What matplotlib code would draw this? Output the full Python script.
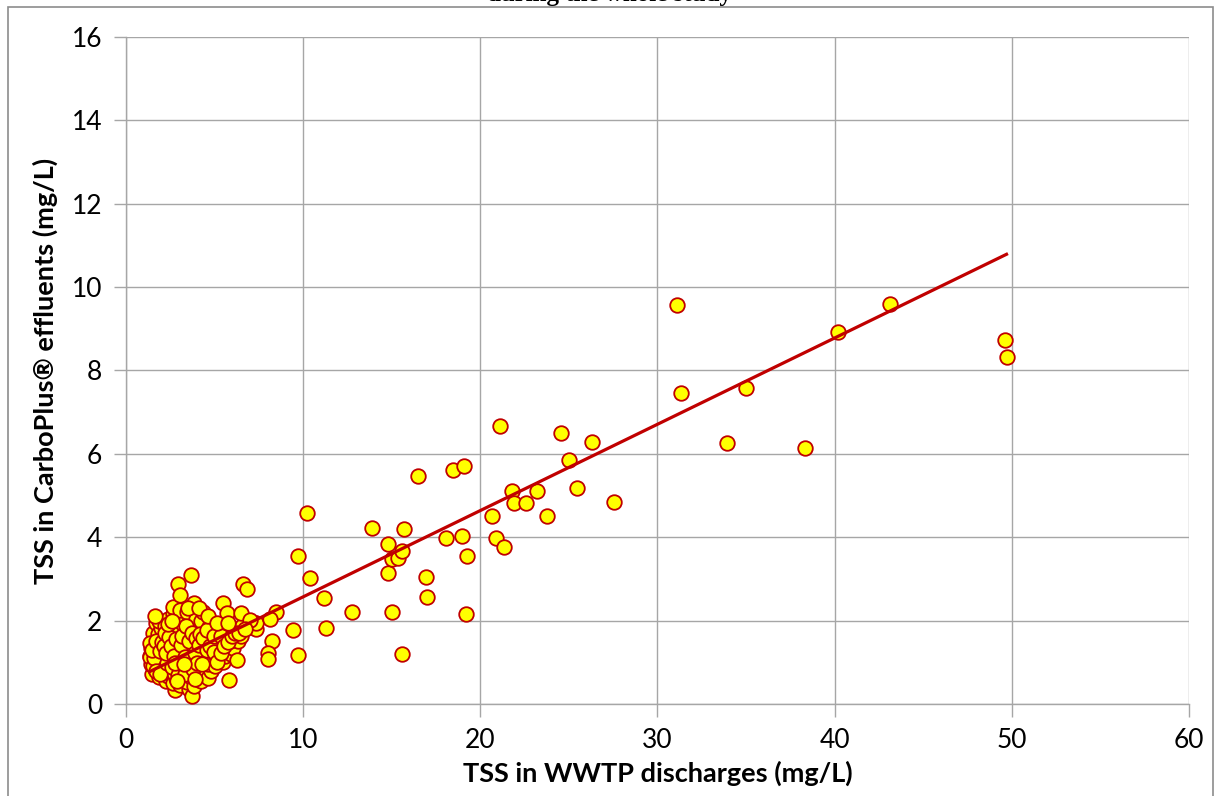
import matplotlib
matplotlib.use("Agg")
import matplotlib.pyplot as plt
from matplotlib.patches import Rectangle

# -------------------------------
# Data
# -------------------------------
# dense cluster near the origin (WWTP, CarboPlus)
cluster_x = [1.45, 1.62, 1.40, 1.55, 1.38, 1.66, 1.42, 1.58, 1.50, 1.70, 1.35, 1.35,
             1.85, 2.05, 1.78, 1.95, 2.10, 1.82, 2.00, 1.90, 2.08, 1.80, 1.98, 1.88, 2.12, 1.75,
             2.25, 2.40, 2.20, 2.48, 2.30, 2.45, 2.22, 2.38, 2.50, 2.28, 2.42, 2.20, 2.35, 2.55, 2.52,
             2.77, 2.65, 2.85, 2.70, 2.90, 2.62, 2.80, 2.68, 2.88, 2.75, 2.60, 2.82, 2.70, 2.92, 2.65,
             2.67, 2.95, 2.78,
             3.05, 3.20, 3.00, 3.28, 3.10, 3.25, 3.02, 3.18, 3.30, 3.08, 3.22, 3.00, 3.15, 3.28, 3.05,
             3.05, 3.12, 3.32,
             3.55, 3.42, 3.65, 3.48, 3.70, 3.40, 3.60, 3.45, 3.68, 3.52, 3.40, 3.62, 3.50, 3.70, 3.45,
             3.67, 3.58,
             3.70, 3.85, 4.00, 3.82, 4.05, 3.90, 4.10, 3.80, 3.98, 4.12, 3.88, 4.05, 3.82, 3.95, 3.86,
             4.08,
             4.25, 4.40, 4.22, 4.48, 4.30, 4.45, 4.20, 4.38, 4.50, 4.28, 4.42, 4.22, 4.35, 4.52,
             4.65, 4.80, 4.62, 4.88, 4.70, 4.85, 4.60, 4.78, 4.90, 4.68, 4.75,
             5.05, 5.20, 5.00, 5.28, 5.10, 5.25, 5.05, 5.18, 5.30,
             5.45, 5.60, 5.42, 5.68, 5.50, 5.65, 5.48, 5.49,
             5.80, 5.95, 6.05, 5.85, 6.10, 5.90, 5.72,
             6.24, 6.35, 6.50, 6.30, 6.55, 6.49, 6.62, 6.81,
             7.00, 7.28, 7.34, 7.35, 7.00,
             # second pass, filling the blob
             1.52, 1.60, 1.48, 1.72, 1.68, 1.90, 2.02, 1.94, 2.15, 2.18, 2.32, 2.26, 2.44,
             2.36, 2.58, 2.56, 2.72, 2.84, 2.96, 2.74, 3.12, 3.16, 3.36, 3.34, 3.38, 3.52,
             3.56, 3.76, 3.74, 3.92, 3.94, 4.02, 4.15, 4.18, 4.32, 4.36, 4.55, 4.58, 4.72,
             4.95, 4.98, 5.12, 5.35, 5.38, 5.55, 5.75, 6.00, 6.15, 6.40, 6.70, 1.62, 2.60,
             3.48, 4.10, 4.62, 5.15, 5.78, 2.90, 3.26, 3.90]
cluster_y = [0.72, 0.85, 0.95, 1.05, 1.15, 1.25, 1.35, 1.45, 1.70, 1.95, 1.46, 1.13,
             0.65, 0.78, 0.90, 1.00, 1.12, 1.22, 1.32, 1.42, 1.55, 1.68, 1.82, 1.98, 0.95, 1.05,
             0.55, 0.68, 0.80, 0.92, 1.05, 1.15, 1.28, 1.40, 1.50, 1.62, 1.75, 1.88, 2.05, 1.20, 0.75,
             0.34, 0.50, 0.62, 0.75, 0.88, 1.00, 1.10, 1.22, 1.35, 1.48, 1.60, 1.72, 1.85, 2.00, 2.15,
             2.33, 2.87, 1.28,
             0.45, 0.60, 0.72, 0.85, 0.98, 1.10, 1.20, 1.32, 1.45, 1.58, 1.70, 1.82, 1.95, 2.10, 2.25,
             2.61, 0.80, 1.25,
             0.35, 0.52, 0.65, 0.80, 0.92, 1.05, 1.18, 1.30, 1.42, 1.55, 1.68, 1.80, 1.92, 2.05, 2.20,
             3.09, 1.00,
             0.18, 0.42, 0.60, 0.75, 0.90, 1.02, 1.15, 1.28, 1.40, 1.52, 1.65, 1.78, 1.90, 2.05, 2.42,
             1.22,
             0.55, 0.70, 0.85, 1.00, 1.12, 1.25, 1.38, 1.50, 1.62, 1.75, 1.88, 2.00, 2.20, 1.10,
             0.62, 0.80, 0.95, 1.10, 1.22, 1.35, 1.48, 1.60, 1.72, 1.85, 1.02,
             0.90, 1.05, 1.20, 1.32, 1.45, 1.58, 1.70, 1.85, 1.15,
             1.00, 1.15, 1.30, 1.42, 1.55, 1.68, 1.80, 2.42,
             0.58, 1.20, 1.35, 1.50, 1.62, 1.75, 2.18,
             1.05, 1.50, 1.62, 1.75, 1.88, 2.18, 2.87, 2.75,
             1.85, 1.94, 1.81, 1.94, 2.02,
             0.90, 1.10, 1.30, 1.52, 0.80, 1.28, 1.48, 0.72, 1.38, 1.70, 0.98, 1.22, 1.60,
             1.92, 0.88, 1.40, 1.15, 1.55, 0.70, 0.98, 1.42, 1.62, 0.72, 1.12, 1.88, 1.02,
             1.50, 0.85, 1.70, 1.22, 1.58, 0.98, 1.42, 1.68, 0.95, 1.58, 1.30, 1.78, 1.40,
             1.25, 1.62, 1.00, 1.22, 1.62, 1.40, 1.48, 1.62, 1.70, 1.70, 1.80, 2.12, 2.00,
             2.30, 2.30, 2.12, 1.95, 1.95, 0.55, 0.95, 0.60]

# scattered points above ~7.5 mg/L
spread_x = [10.23, 9.73, 10.38, 11.19, 11.29, 9.44, 9.69, 8.26, 8.00, 8.00, 8.45, 8.13,
            12.75, 13.88, 14.80, 14.77, 15.03, 15.37, 15.56, 15.69, 15.03, 15.56,
            16.46, 16.91, 16.99, 18.06, 18.45, 19.06, 18.94, 19.24, 19.22,
            20.64, 20.90, 21.31, 21.12, 21.77, 21.88, 22.59, 23.18, 23.76,
            24.55, 25.02, 25.47, 26.30, 27.56,
            31.10, 31.30, 33.90, 35.00, 38.30, 40.20, 43.10, 49.60, 49.70]
spread_y = [4.59, 3.56, 3.03, 2.54, 1.82, 1.78, 1.18, 1.52, 1.22, 1.08, 2.20, 2.04,
            2.20, 4.23, 3.83, 3.15, 3.47, 3.50, 3.67, 4.20, 2.21, 1.19,
            5.48, 3.05, 2.56, 3.97, 5.61, 5.71, 4.04, 3.55, 2.16,
            4.51, 3.99, 3.77, 6.68, 5.11, 4.83, 4.81, 5.11, 4.51,
            6.50, 5.85, 5.17, 6.29, 4.84,
            9.57, 7.45, 6.25, 7.58, 6.14, 8.93, 9.60, 8.74, 8.33]

# linear trendline (Excel style), slope / intercept
trend_slope = 0.207
trend_intercept = 0.50

wwtp = cluster_x + spread_x
carbo = cluster_y + spread_y

# -------------------------------
# Figure
# -------------------------------
plt.rcParams["font.family"] = ["Lato", "DejaVu Sans"]

fig = plt.figure(figsize=(12.17, 7.96), dpi=100)
ax = fig.add_axes([0.1035, 0.1156, 0.8735, 0.8379])

grey = "#A6A6A6"
ax.grid(True, color=grey, linewidth=1.0, zorder=0)
ax.set_axisbelow(True)

ax.scatter(wwtp, carbo, s=110, facecolor="#FFFF00", edgecolor="#C00000",
           linewidth=1.3, zorder=3)

x0, x1 = min(wwtp), max(wwtp)
ax.plot([x0, x1], [trend_intercept + trend_slope * x0, trend_intercept + trend_slope * x1],
        color="#C00000", linewidth=2.3, zorder=4)

ax.set_xlim(0, 60)
ax.set_ylim(0, 16)
ax.set_xticks(range(0, 61, 10))
ax.set_yticks(range(0, 17, 2))

for side in ["top", "right"]:
    ax.spines[side].set_visible(False)
for side in ["left", "bottom"]:
    ax.spines[side].set_color(grey)
    ax.spines[side].set_linewidth(1.0)
ax.tick_params(direction="out", length=9, width=1.0, color=grey,
               labelsize=19, pad=8)

ax.set_xlabel("TSS in WWTP discharges (mg/L)", fontsize=19.5, fontweight="bold", labelpad=6)
ax.set_ylabel("TSS in CarboPlus® effluents (mg/L)", fontsize=19.5, fontweight="bold", labelpad=10)

# chart area border and the cut-off title
fig.patches.append(Rectangle((8 / 1217, -0.05), (1213 - 8) / 1217, 1.05 - 7 / 796,
                             transform=fig.transFigure, fill=False,
                             edgecolor="#8C8C8C", linewidth=1.2))
fig.text(609 / 1217, 1 - 1.5 / 796, "during the whole study", ha="center", va="baseline",
         fontsize=18, fontweight="bold", family=["Liberation Serif", "DejaVu Serif"])

fig.savefig("out.png", dpi=100)
